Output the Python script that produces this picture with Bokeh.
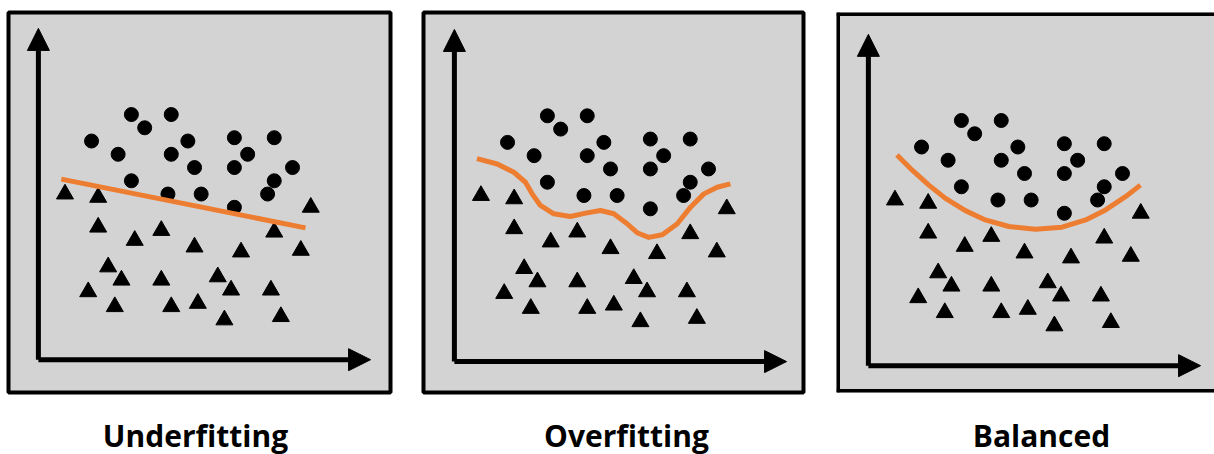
from bokeh.plotting import figure
from bokeh.layouts import row, column
from bokeh.models import Arrow, NormalHead, Range1d, Span
from bokeh.core.properties import value
from bokeh.embed import file_html
from bokeh.resources import INLINE

# ---- data (same scatter in each panel) ----
circle_x = [28, 40, 32, 16, 24, 40, 45, 47, 59, 63, 71, 76.5, 59, 71, 28, 39, 49, 59, 69]
circle_y = [74, 74, 70, 66, 62, 62, 66, 58, 67, 62, 67, 58, 58, 54, 54, 50, 50, 46, 50]

triangle_x = [8, 18, 18, 29, 37, 47, 61, 71, 82, 79, 21, 25, 15, 23, 37, 40, 48, 54, 58, 56, 70, 73]
triangle_y = [50, 49, 40, 36, 39, 34, 32.5, 38.5, 46, 33, 28, 24, 20.5, 16, 24, 16, 17, 25, 21, 12, 21, 13]

underfit_x = [6.9, 80.4]
underfit_y = [54.5, 39.8]

overfit_x = [6.8, 12.9, 17.9, 21.4, 23.4, 25.9, 29.9, 34.9, 39.5, 44.0, 48.0, 52.0, 55.0, 58.5, 62.6, 67.1, 71.1, 75.1, 79.1, 83.1]
overfit_y = [61.1, 59.5, 57.0, 54.0, 50.5, 47.0, 44.5, 43.7, 44.7, 45.5, 44.5, 41.5, 38.8, 37.4, 38.2, 41.5, 46.5, 50.5, 52.5, 53.5]

balanced_x = [8.6, 13.2, 18.2, 23.2, 29.2, 35.2, 42.3, 50.3, 58.3, 65.4, 71.4, 77.4, 81.9]
balanced_y = [63.6, 59.0, 54.5, 50.5, 46.8, 44.0, 42.0, 41.2, 41.8, 44.0, 47.0, 51.0, 54.5]

titles = ["Underfitting", "Overfitting", "Balanced"]
title_x = [47.3, 51.8, 52.1]

ORANGE = "#ED7D31"
GRAY = "#D3D3D3"


def make_panel(fx, fy, xr, yr, width, bl, br, bt, bb, open_right=False):
    p = figure(width=width, height=400, output_backend="svg", toolbar_location=None,
               x_axis_location=None, y_axis_location=None,
               x_range=Range1d(*xr), y_range=Range1d(*yr),
               min_border_left=bl, min_border_right=br, min_border_top=bt, min_border_bottom=bb)
    p.grid.visible = False
    p.background_fill_color = GRAY
    p.border_fill_color = "white"
    if open_right:
        p.outline_line_color = None
        for loc, dim in ((xr[0], "height"), (yr[0], "width"), (yr[1], "width")):
            p.add_layout(Span(location=loc, dimension=dim, line_color="black", line_width=7))
    else:
        p.outline_line_color = "black"
        p.outline_line_width = 4
    # axes as arrows
    p.add_layout(Arrow(end=NormalHead(size=22, fill_color="black", line_color="black"),
                       x_start=0, y_start=0, x_end=100, y_end=0,
                       line_width=5, line_color="black"))
    p.add_layout(Arrow(end=NormalHead(size=22, fill_color="black", line_color="black"),
                       x_start=0, y_start=0, x_end=0, y_end=100,
                       line_width=5, line_color="black"))
    p.scatter(circle_x, circle_y, marker="circle", size=14, color="black")
    p.scatter(triangle_x, triangle_y, marker="triangle", size=17, color="black")
    p.line(fx, fy, line_color=ORANGE, line_width=5, line_join="round", line_cap="butt")
    return p


def make_title(text, tx, xr, width, bl, br):
    t = figure(width=width, height=54, output_backend="svg", toolbar_location=None,
               x_axis_location=None, y_axis_location=None,
               x_range=Range1d(*xr), y_range=Range1d(0, 54),
               min_border_left=bl, min_border_right=br, min_border_top=0, min_border_bottom=0)
    t.grid.visible = False
    t.outline_line_color = None
    t.background_fill_color = "white"
    t.border_fill_color = "white"
    t.text(x=[tx], y=[19], text=[text], text_align="center", text_baseline="alphabetic",
           text_font=value("Open Sans"), text_font_style="bold", text_font_size="30px",
           text_color="black")
    return t


cfg = [
    (underfit_x, underfit_y, (-9.0, 106.0), (-9.9, 104.8), 406, 8, 16, 12, 7, False),
    (overfit_x, overfit_y, (-9.3, 105.1), (-9.3, 105.1), 414, 17, 17, 12, 8, False),
    (balanced_x, balanced_y, (-9.6, 104.2), (-8.1, 106.6), 394, 16, 0, 12, 7, True),
]

panels, heads = [], []
for (fx, fy, xr, yr, w, bl, br, bt, bb, opn), name, tx in zip(cfg, titles, title_x):
    panels.append(make_panel(fx, fy, xr, yr, w, bl, br, bt, bb, open_right=opn))
    heads.append(make_title(name, tx, xr, w, bl, br))

layout = column(row(*panels, spacing=0), row(*heads, spacing=0), spacing=0)
open("out.html", "w").write(file_html(layout, INLINE))
